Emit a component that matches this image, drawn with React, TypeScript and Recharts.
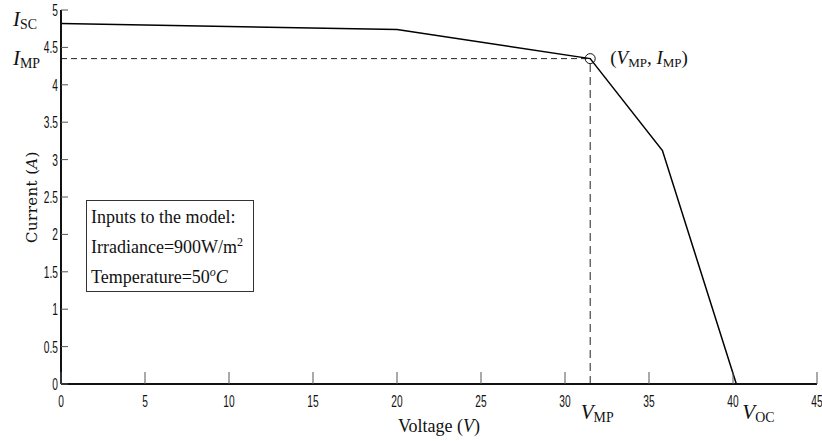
import React from 'react';
import { LineChart, Line, XAxis, YAxis, ReferenceLine, ReferenceDot } from 'recharts';

// I-V curve
const voltage = [0, 20, 31.5, 35.8, 40.2];
const current = [4.82, 4.74, 4.35, 3.12, 0];

const xTicks = [0, 5, 10, 15, 20, 25, 30, 35, 40, 45];
const yTicks = [0, 0.5, 1, 1.5, 2, 2.5, 3, 3.5, 4, 4.5, 5];

const V_MP = 31.5;
const I_MP = 4.35;
const V_OC = 40.2;
const I_SC = 4.82;

const inputLines = ['Inputs to the model:', 'Irradiance=900W/m', 'Temperature=50'];

const data = voltage.map((v, k) => ({ v, i: current[k] }));

const tickFont = "'Liberation Sans', Arial, sans-serif";
const serif = "'Liberation Serif', 'DejaVu Serif', serif";
const tickColor = '#555';
const frame = { stroke: '#111', strokeWidth: 2 };

// narrow, tall tick numbers, like the original
const TickText = ({ x, y, anchor, children }: any) => (
    <text transform={`translate(${x},${y}) scale(0.6,1)`} textAnchor={anchor} fontSize={17} fontFamily={tickFont} fill="#111">{children}</text>
);

const BottomTick = ({ x, y, payload }: any) => (
    <g>
        <line x1={x} y1={y} x2={x} y2={y - 12} stroke={tickColor} />
        <TickText x={x} y={y + 23} anchor="middle">{payload.value}</TickText>
    </g>
);
const TopTick = ({ x, y }: any) => <line x1={x} y1={y} x2={x} y2={y + 12} stroke={tickColor} />;
const LeftTick = ({ x, y, payload }: any) => (
    <g>
        <line x1={x} y1={y} x2={x + 7} y2={y} stroke={tickColor} />
        <TickText x={x - 3} y={y + 6} anchor="end">{payload.value}</TickText>
    </g>
);
const RightTick = ({ x, y }: any) => <line x1={x} y1={y} x2={x - 7} y2={y} stroke={tickColor} />;

const center = (vb: any) => ({ cx: vb.x + (vb.width || 0) / 2, cy: vb.y + (vb.height || 0) / 2 });

// symbol with subscript, e.g. I_SC
const Sym = ({ x, y, main, sub, anchor = 'start', size = 21 }: any) => (
    <text x={x} y={y} textAnchor={anchor} fontFamily={serif} fill="#111">
        <tspan fontStyle="italic" fontSize={size}>{main}</tspan>
        <tspan fontSize={size * 0.66} dy={3}>{sub}</tspan>
    </text>
);

const boxLine: React.CSSProperties = { height: 30, lineHeight: '30px', whiteSpace: 'nowrap' };

export default function App() {
    return (
        <div style={{ position: 'absolute', left: 0, top: 0, width: 822, height: 441, background: '#fff', overflow: 'hidden' }}>
            <LineChart width={822} height={441} data={data} margin={{ top: 10, right: 5, left: 0, bottom: 0 }}>
                <XAxis dataKey="v" type="number" domain={[0, 45]} ticks={xTicks} interval={0} height={57}
                    axisLine={frame} tickSize={0} tickMargin={0} tick={BottomTick}
                    label={(p: any) => (
                        <text x={p.viewBox.x + p.viewBox.width / 2} y={p.viewBox.y + 48} textAnchor="middle" fontFamily={serif} fontSize={18} fill="#111">
                            Voltage (<tspan fontStyle="italic">V</tspan>)
                        </text>
                    )} />
                <XAxis xAxisId="top" orientation="top" dataKey="v" type="number" domain={[0, 45]} ticks={xTicks} interval={0}
                    height={0} axisLine={frame} tickSize={0} tickMargin={0} tick={TopTick} />
                <YAxis type="number" domain={[0, 5]} ticks={yTicks} interval={0} width={61}
                    axisLine={frame} tickSize={0} tickMargin={0} tick={LeftTick}
                    label={(p: any) => {
                        const cy = p.viewBox.y + p.viewBox.height / 2;
                        return (
                            <text x={32} y={cy} transform={`rotate(-90 32 ${cy})`} textAnchor="middle" dominantBaseline="central"
                                fontFamily="'DejaVu Serif', serif" fontSize={15} letterSpacing={0.4} fill="#111">
                                Current (<tspan fontStyle="italic">A</tspan>)
                            </text>
                        );
                    }} />
                <YAxis yAxisId="right" orientation="right" type="number" domain={[0, 5]} ticks={yTicks} interval={0} width={0}
                    axisLine={frame} tickSize={0} tickMargin={0} tick={RightTick} />

                <ReferenceLine segment={[{ x: 0, y: I_MP }, { x: V_MP, y: I_MP }]} stroke="#222" strokeDasharray="6 4" />
                <ReferenceLine segment={[{ x: V_MP, y: 0 }, { x: V_MP, y: I_MP }]} stroke="#222" strokeDasharray="8 5" />

                <Line dataKey="i" type="linear" stroke="#000" strokeWidth={1.5} dot={false} isAnimationActive={false} />

                <ReferenceDot x={V_MP} y={I_MP} r={5} fill="none" stroke="#111" strokeWidth={1}
                    label={(p: any) => {
                        const { cx, cy } = center(p.viewBox);
                        return (
                            <text x={cx + 20} y={cy + 5} fontFamily={serif} fontSize={19} fill="#111">
                                (<tspan fontStyle="italic">V</tspan><tspan fontSize={13} dy={3}>MP</tspan>
                                <tspan dy={-3}>, </tspan><tspan fontStyle="italic">I</tspan><tspan fontSize={13} dy={3}>MP</tspan>
                                <tspan dy={-3}>)</tspan>
                            </text>
                        );
                    }} />
                <ReferenceDot x={0} y={I_SC} r={0} ifOverflow="visible"
                    label={(p: any) => {
                        const { cx, cy } = center(p.viewBox);
                        return <Sym x={cx - 24} y={cy + 3} main="I" sub="SC" anchor="end" />;
                    }} />
                <ReferenceDot x={0} y={I_MP} r={0} ifOverflow="visible"
                    label={(p: any) => {
                        const { cx, cy } = center(p.viewBox);
                        return <Sym x={cx - 21} y={cy + 6} main="I" sub="MP" anchor="end" />;
                    }} />
                <ReferenceDot x={V_MP} y={0} r={0} ifOverflow="visible"
                    label={(p: any) => {
                        const { cx, cy } = center(p.viewBox);
                        return <Sym x={cx + 7} y={cy + 35} main="V" sub="MP" anchor="middle" />;
                    }} />
                <ReferenceDot x={V_OC} y={0} r={0} ifOverflow="visible"
                    label={(p: any) => {
                        const { cx, cy } = center(p.viewBox);
                        return <Sym x={cx + 22} y={cy + 35} main="V" sub="OC" anchor="middle" />;
                    }} />
            </LineChart>

            <div style={{
                position: 'absolute', left: 86, top: 200, width: 168, height: 92, boxSizing: 'border-box',
                border: '1px solid #333', background: '#fff', padding: '1px 0 0 4px',
                fontFamily: serif, fontSize: 18, color: '#111'
            }}>
                <div style={boxLine}>{inputLines[0]}</div>
                <div style={boxLine}>{inputLines[1]}<span style={{ fontSize: 12, position: 'relative', top: -7 }}>2</span></div>
                <div style={boxLine}>{inputLines[2]}<i><span style={{ fontSize: 12, position: 'relative', top: -7 }}>o</span>C</i></div>
            </div>
        </div>
    );
}
